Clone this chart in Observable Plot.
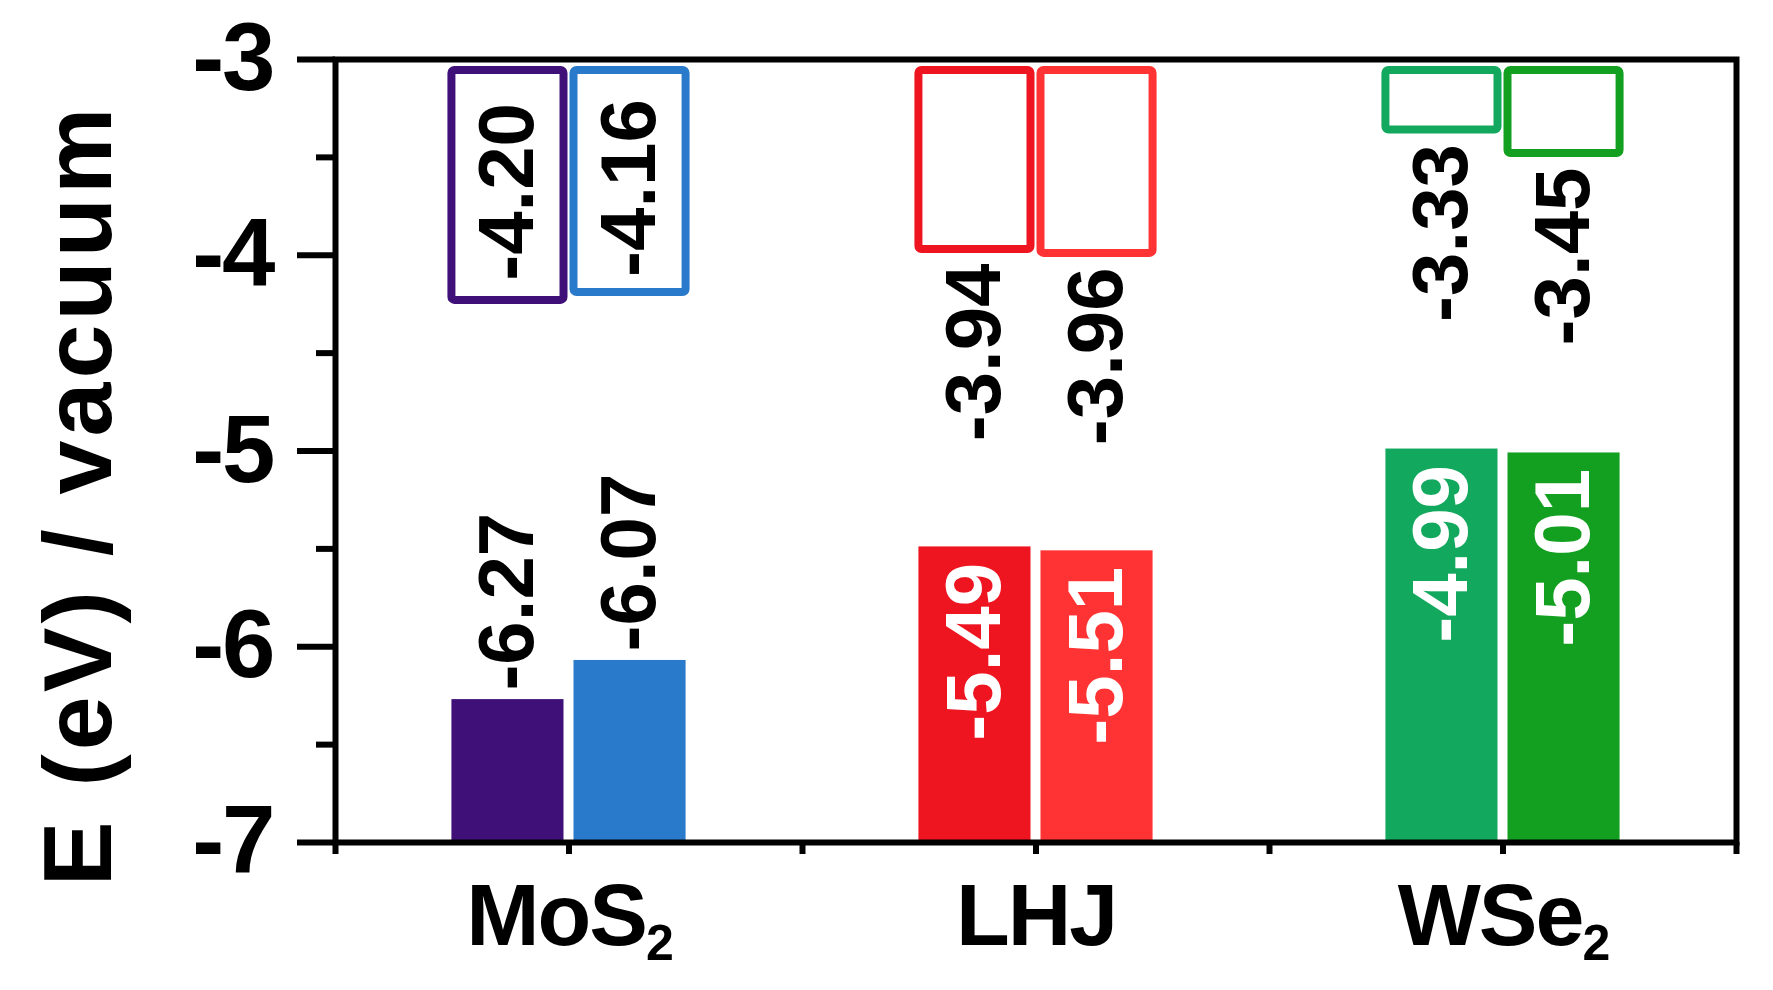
<!DOCTYPE html>
<html>
<head>
<meta charset="utf-8">
<script src="https://cdn.jsdelivr.net/npm/d3@7"></script>
<script src="https://cdn.jsdelivr.net/npm/@observablehq/plot@0.6"></script>
<style>
  html, body { margin: 0; padding: 0; background: #fff; }
  #chart { width: 1773px; height: 990px; }
</style>
</head>
<body>
<div id="chart"></div>
<script>
// ---- data ----
const categories = ["MoS2", "LHJ", "WSe2"];
const cbFirst  = [-4.20, -3.94, -3.33];   // conduction band, left bar of each pair
const cbSecond = [-4.16, -3.96, -3.45];   // conduction band, right bar of each pair
const vbFirst  = [-6.27, -5.49, -4.99];   // valence band, left bar
const vbSecond = [-6.07, -5.51, -5.01];   // valence band, right bar
const colorsFirst  = ["#3f1078", "#ee1520", "#12a85e"];
const colorsSecond = ["#2a7acc", "#ff3333", "#13a020"];
const yTicks = [-3, -4, -5, -6, -7];
const yMinorTicks = [-3.5, -4.5, -5.5, -6.5];
const yTitle = "E (eV) / vacuum";

// ---- build table ----
const rows = [];
categories.forEach((cat, i) => {
  rows.push({cat, i, s: 0, cb: cbFirst[i], vb: vbFirst[i], color: colorsFirst[i]});
  rows.push({cat, i, s: 1, cb: cbSecond[i], vb: vbSecond[i], color: colorsSecond[i]});
});
const BAR_W = 0.24, GAP = 0.0107;
const bx1 = d => d.i + 1 + (d.s === 0 ? -GAP - BAR_W : GAP);
const bx2 = d => bx1(d) + BAR_W;
const bxc = d => (bx1(d) + bx2(d)) / 2;
const yTop = d3.max(yTicks), yBottom = d3.min(yTicks);
const xDomain = [0.5, categories.length + 0.5];
const xHalfTicks = d3.range(xDomain[0], xDomain[1] + 0.01, 0.5);
const xLabelTicks = categories.map((c, i) => i + 1);

const FONT = "'Liberation Sans', Arial, Helvetica, sans-serif";
const VAL_FS = 78;
const fmt = v => v.toFixed(2);

const plot = Plot.plot({
  width: 1773,
  height: 990,
  marginLeft: 335,
  marginRight: 37,
  marginTop: 59,
  marginBottom: 148,
  style: {background: "#fff", overflow: "visible", fontFamily: FONT},
  x: {domain: xDomain, label: null},
  y: {domain: [yBottom, yTop], label: null},
  marks: [
    // valence band filled bars
    Plot.rect(rows, {x1: bx1, x2: bx2, y1: () => yBottom, y2: "vb", fill: "color"}),
    // conduction band open boxes
    Plot.rect(rows, {
      x1: bx1, x2: bx2, y1: () => yTop, y2: "cb",
      fill: "white", stroke: "color", strokeWidth: 8, rx: 3,
      insetTop: 11, insetBottom: -6, insetLeft: 0, insetRight: 0
    }),
    // CB labels inside boxes (MoS2)
    Plot.text(rows.filter(d => d.i === 0), {
      x: bxc, y: d => (yTop + d.cb) / 2, text: d => fmt(d.cb),
      rotate: -90, textAnchor: "middle", dy: 15,
      fontSize: VAL_FS, fontWeight: "bold", fill: "black", fontFamily: FONT
    }),
    // CB labels below boxes (LHJ, WSe2)
    Plot.text(rows.filter(d => d.i > 0), {
      x: bxc, y: "cb", text: d => fmt(d.cb),
      rotate: -90, textAnchor: "end", dy: 20,
      fontSize: VAL_FS, fontWeight: "bold", fill: "black", fontFamily: FONT
    }),
    // VB labels above bars (MoS2)
    Plot.text(rows.filter(d => d.i === 0), {
      x: bxc, y: "vb", text: d => fmt(d.vb),
      rotate: -90, textAnchor: "start", dy: -9,
      fontSize: VAL_FS, fontWeight: "bold", fill: "black", fontFamily: FONT
    }),
    // VB labels inside bars (LHJ, WSe2)
    Plot.text(rows.filter(d => d.i > 0), {
      x: bxc, y: "vb", text: d => fmt(d.vb),
      rotate: -90, textAnchor: "end", dy: 16,
      fontSize: VAL_FS, fontWeight: "bold", fill: "white", fontFamily: FONT
    }),
    // Y axis: major ticks + labels
    Plot.axisY(yTicks, {
      tickSize: 38, tickPadding: 24, strokeWidth: 6,
      tickFormat: d => String(d), fontSize: 96, fontWeight: "bold",
      fontFamily: FONT, label: null
    }),
    // Y axis: minor ticks
    Plot.axisY(yMinorTicks, {tickSize: 19, strokeWidth: 6, fill: "none", label: null}),
    // X axis: ticks
    Plot.axisX(xHalfTicks, {tickSize: 12, strokeWidth: 6, fill: "none", label: null}),
    // X axis: labels
    Plot.axisX(xLabelTicks, {
      tickSize: 0, tickPadding: 40, tickFormat: d => categories[d - 1],
      fontSize: 88, fontWeight: "bold", fontFamily: FONT, label: null
    }),
    // Y title
    Plot.text([yTitle], {
      text: d => d, frameAnchor: "left", textAnchor: "middle", lineAnchor: "middle",
      rotate: -90, dx: -256, dy: 44,
      fontSize: 97, fontWeight: "bold", fontFamily: FONT, fill: "black"
    }),
    // frame
    Plot.frame({stroke: "black", strokeWidth: 6})
  ]
});

// subscripts on chemical formulas (MoS2 -> MoS₂)
plot.querySelectorAll('g[aria-label="x-axis tick label"] text').forEach(t => {
  const m = t.textContent.match(/^(.*\D)(\d+)$/);
  if (!m) return;
  t.textContent = "";
  const ns = "http://www.w3.org/2000/svg";
  const a = document.createElementNS(ns, "tspan");
  a.textContent = m[1];
  const b = document.createElementNS(ns, "tspan");
  b.textContent = m[2];
  b.setAttribute("font-size", "50");
  b.setAttribute("dy", "15");
  t.appendChild(a);
  t.appendChild(b);
});
plot.querySelectorAll('g[aria-label="y-axis tick label"] text, g[aria-label="x-axis tick label"] text')
  .forEach(t => t.setAttribute("letter-spacing", "-2"));
plot.querySelectorAll('g[aria-label="text"] text').forEach(t => {
  if (t.textContent === yTitle) t.setAttribute("letter-spacing", "4");
});

document.getElementById("chart").appendChild(plot);
</script>
</body>
</html>
